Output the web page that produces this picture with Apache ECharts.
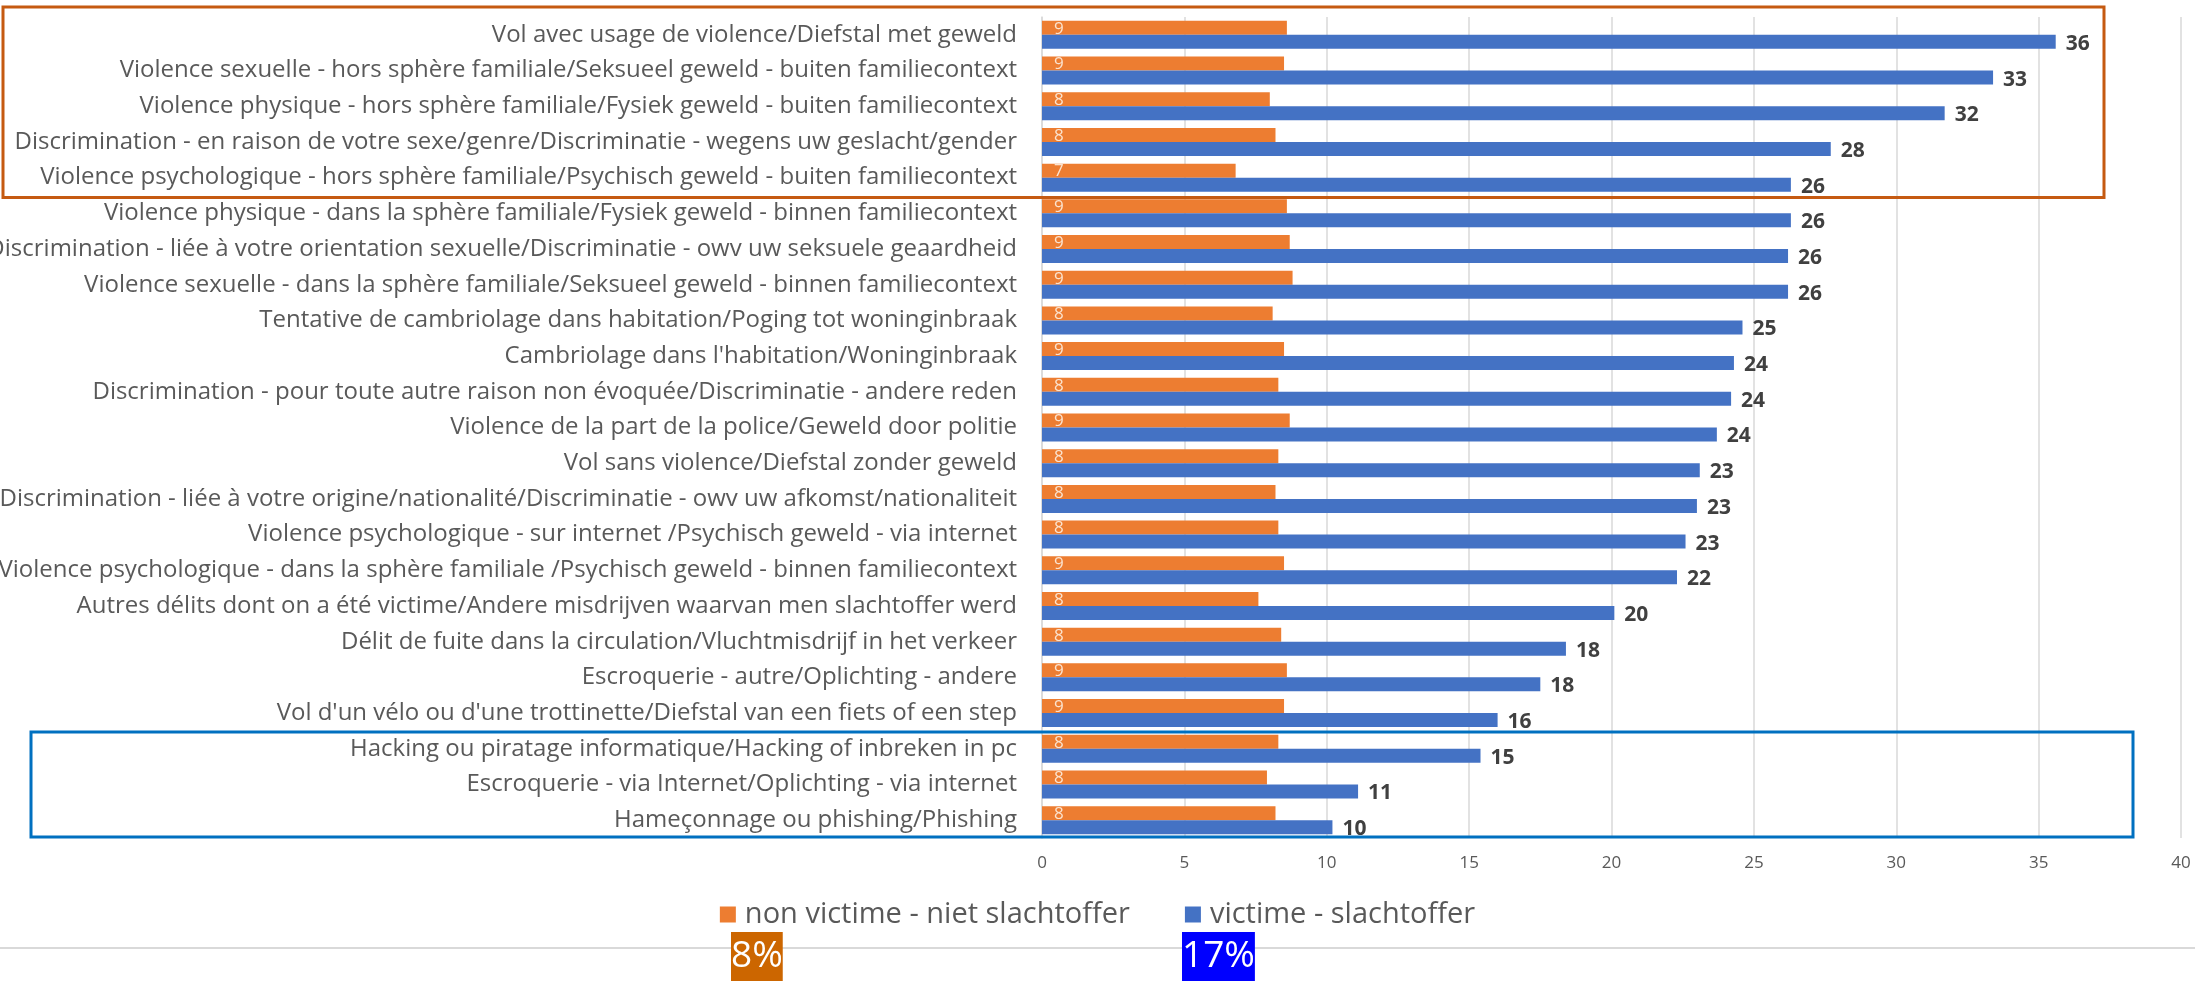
<!DOCTYPE html>
<html>
<head>
<meta charset="utf-8">
<script src="https://cdn.jsdelivr.net/npm/echarts@6/dist/echarts.min.js"></script>
<style>
  html, body { margin: 0; padding: 0; background: #ffffff; }
  #chart { width: 2195px; height: 981px; }
</style>
</head>
<body>
<div id="chart"></div>
<script>
// Categories, listed top to bottom
const categories = [
  "Vol avec usage de violence/Diefstal met geweld",
  "Violence sexuelle - hors sphère familiale/Seksueel geweld - buiten familiecontext",
  "Violence physique - hors sphère familiale/Fysiek geweld - buiten familiecontext",
  "Discrimination - en raison de votre sexe/genre/Discriminatie - wegens uw geslacht/gender",
  "Violence psychologique - hors sphère familiale/Psychisch geweld - buiten familiecontext",
  "Violence physique - dans la sphère familiale/Fysiek geweld - binnen familiecontext",
  "Discrimination - liée à votre orientation sexuelle/Discriminatie - owv uw seksuele geaardheid",
  "Violence sexuelle - dans la sphère familiale/Seksueel geweld - binnen familiecontext",
  "Tentative de cambriolage dans habitation/Poging tot woninginbraak",
  "Cambriolage dans l'habitation/Woninginbraak",
  "Discrimination - pour toute autre raison non évoquée/Discriminatie - andere reden",
  "Violence de la part de la police/Geweld door politie",
  "Vol sans violence/Diefstal zonder geweld",
  "Discrimination - liée à votre origine/nationalité/Discriminatie - owv uw afkomst/nationaliteit",
  "Violence psychologique - sur internet /Psychisch geweld - via internet",
  "Violence psychologique - dans la sphère familiale /Psychisch geweld - binnen familiecontext",
  "Autres délits dont on a été victime/Andere misdrijven waarvan men slachtoffer werd",
  "Délit de fuite dans la circulation/Vluchtmisdrijf in het verkeer",
  "Escroquerie - autre/Oplichting - andere",
  "Vol d'un vélo ou d'une trottinette/Diefstal van een fiets of een step",
  "Hacking ou piratage informatique/Hacking of inbreken in pc",
  "Escroquerie - via Internet/Oplichting - via internet",
  "Hameçonnage ou phishing/Phishing"
];

// Share (%) per category
const nonVictimValues = [8.6, 8.5, 8.0, 8.2, 6.8, 8.6, 8.7, 8.8, 8.1, 8.5, 8.3, 8.7, 8.3, 8.2, 8.3, 8.5, 7.6, 8.4, 8.6, 8.5, 8.3, 7.9, 8.2];
const victimValues    = [35.6, 33.4, 31.7, 27.7, 26.3, 26.3, 26.2, 26.2, 24.6, 24.3, 24.2, 23.7, 23.1, 23.0, 22.6, 22.3, 20.1, 18.4, 17.5, 16.0, 15.4, 11.1, 10.2];

const seriesNames = ["non victime - niet slachtoffer", "victime - slachtoffer"];
const overallRates = ["8%", "17%"];

// Axis scale
const axisMin = 0;
const axisMax = 40;
const axisStep = 5;

// Highlighted category groups: [first index, last index]
const highlightTop = [0, 4];
const highlightBottom = [20, 22];

const FONT = "'Open Sans', 'Noto Sans', sans-serif";
const ORANGE = "#ED7D31";
const BLUE = "#4472C4";
const TEXT = "#595959";

const chart = echarts.init(document.getElementById("chart"), null, { renderer: "canvas" });

chart.setOption({
  backgroundColor: "#ffffff",
  animation: false,
  textStyle: { fontFamily: FONT },
  grid: {
    left: 1042, right: 14, top: 17, bottom: 143,
    containLabel: false,
    outerBoundsMode: "none"
  },
  xAxis: {
    type: "value",
    min: axisMin,
    max: axisMax,
    interval: axisStep,
    axisLine: { show: false },
    axisTick: { show: false },
    splitLine: { show: true, lineStyle: { color: "#d9d9d9", width: 1.5 } },
    axisLabel: { color: TEXT, fontSize: 17, fontFamily: FONT, margin: 17 }
  },
  yAxis: {
    type: "category",
    inverse: true,
    data: categories,
    axisLine: { show: true, lineStyle: { color: "#d9d9d9", width: 1.5 } },
    axisTick: { show: false },
    axisLabel: { color: TEXT, fontSize: 24, fontFamily: FONT, margin: 25 }
  },
  legend: {
    data: seriesNames,
    left: "center",
    top: 895,
    icon: "rect",
    itemWidth: 16,
    itemHeight: 16,
    itemGap: 55,
    textStyle: { color: TEXT, fontSize: 29, fontFamily: FONT, padding: [0, 0, 0, 4] }
  },
  series: [
    {
      name: seriesNames[0],
      type: "bar",
      data: nonVictimValues,
      barWidth: 14,
      barGap: "0%",
      itemStyle: { color: ORANGE },
      label: {
        show: true,
        position: "insideLeft",
        distance: 12,
        offset: [0, 1],
        color: "#FBE3CF",
        fontSize: 17,
        fontFamily: FONT,
        formatter: p => Math.round(p.value)
      }
    },
    {
      name: seriesNames[1],
      type: "bar",
      data: victimValues,
      barWidth: 14,
      barGap: "0%",
      itemStyle: { color: BLUE },
      label: {
        show: true,
        position: "right",
        distance: 10,
        offset: [0, 2],
        color: "#404040",
        fontSize: 21,
        fontWeight: "bold",
        fontFamily: FONT,
        formatter: p => Math.round(p.value)
      }
    }
  ]
});

// Frame line, overall rate tags and highlight boxes
function bandEdge(i, side) {
  const c0 = chart.convertToPixel({ yAxisIndex: 0 }, categories[0]);
  const c1 = chart.convertToPixel({ yAxisIndex: 0 }, categories[1]);
  const step = c1 - c0;
  return chart.convertToPixel({ yAxisIndex: 0 }, categories[i]) + side * step / 2;
}

const topBox = { y1: bandEdge(highlightTop[0], -1) - 10, y2: bandEdge(highlightTop[1], 1) + 2 };
const botBox = { y1: bandEdge(highlightBottom[0], -1) + 1, y2: bandEdge(highlightBottom[1], 1) - 1 };

chart.setOption({
  graphic: [
    {
      type: "line",
      z: 1,
      shape: { x1: 0, y1: 948, x2: 2195, y2: 948 },
      style: { stroke: "#d9d9d9", lineWidth: 2 }
    },
    {
      type: "rect",
      z: 10,
      shape: { x: 3, y: topBox.y1, width: 2101, height: topBox.y2 - topBox.y1 },
      style: { fill: "none", stroke: "#C55A11", lineWidth: 3 }
    },
    {
      type: "rect",
      z: 10,
      shape: { x: 31, y: botBox.y1, width: 2102, height: botBox.y2 - botBox.y1 },
      style: { fill: "none", stroke: "#0070C0", lineWidth: 3 }
    },
    {
      type: "text",
      z: 20,
      left: 731,
      top: 932,
      style: {
        text: overallRates[0],
        fill: "#ffffff",
        font: "37px " + FONT,
        backgroundColor: "#CC6600",
        padding: [6, 0, 8, 0]
      }
    },
    {
      type: "text",
      z: 20,
      left: 1182,
      top: 932,
      style: {
        text: overallRates[1],
        fill: "#ffffff",
        font: "37px " + FONT,
        backgroundColor: "#0000FF",
        padding: [6, 0, 8, 0]
      }
    }
  ]
});
</script>
</body>
</html>
